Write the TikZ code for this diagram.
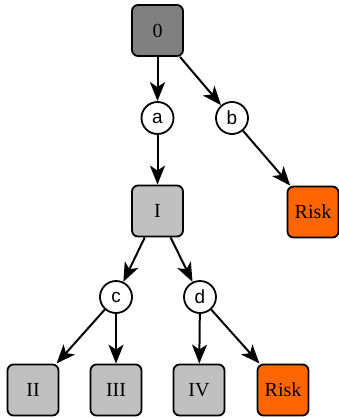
\documentclass[tikz,border=0pt]{standalone}
\usepackage{fontspec}
\setmainfont{Liberation Serif}
\newfontfamily\labelsans{Liberation Sans}
\usetikzlibrary{arrows.meta}
\definecolor{darkbox}{HTML}{808080}
\definecolor{lightbox}{HTML}{C0C0C0}
\definecolor{riskfill}{HTML}{FF6600}
\begin{document}
\begin{tikzpicture}[x=1pt,y=-1pt,
  statebox/.style={draw=black, line width=1.8pt, rounded corners=6pt,
    minimum width=51pt, minimum height=51pt, inner sep=0pt,
    font=\fontsize{20}{20}\selectfont},
  chance/.style={draw=black, fill=white, circle, line width=1.8pt,
    minimum size=32pt, inner sep=0pt, font=\labelsans\fontsize{19}{19}\selectfont},
  link/.style={line width=2pt, -{Stealth[length=19pt,width=15pt,inset=5pt]}}]
  \useasboundingbox (0,0) rectangle (339,418);
  % decision states
  \node[statebox, fill=darkbox]  (s0)  at (157.5,30.5) {0};
  \node[statebox, fill=lightbox] (s1)  at (157.5,211) {I};
  \node[statebox, fill=riskfill] (r1)  at (313,212) {Risk};
  \node[statebox, fill=lightbox] (s2)  at (33,390) {II};
  \node[statebox, fill=lightbox] (s3)  at (116,390) {III};
  \node[statebox, fill=lightbox] (s4)  at (199,390) {IV};
  \node[statebox, fill=riskfill] (r2)  at (283,390) {Risk};
  % branching points
  \node[chance] (a) at (157.5,118) {a};
  \node[chance] (b) at (232,118) {b};
  \node[chance] (c) at (116,297) {c};
  \node[chance] (d) at (200,297) {d};
  % connectors
  \draw[link] (s0) -- (a);
  \draw[link] (s0) -- (b);
  \draw[link] (a) -- (s1);
  \draw[link] (b) -- (r1);
  \draw[link] (s1) -- (c);
  \draw[link] (s1) -- (d);
  \draw[link] (c) -- (s2);
  \draw[link] (c) -- (s3);
  \draw[link] (d) -- (s4);
  \draw[link] (d) -- (r2);
\end{tikzpicture}
\end{document}
